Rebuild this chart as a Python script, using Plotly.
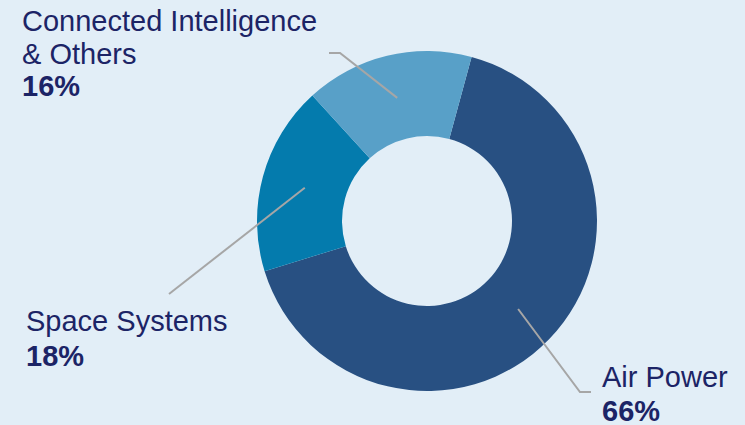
import math
import plotly.graph_objects as go

# Segment revenue mix
segments = ["Air Power", "Space Systems", "Connected Intelligence & Others"]
label_lines = [["Air Power"], ["Space Systems"], ["Connected Intelligence", "& Others"]]
shares = [66, 18, 16]
colors = ["#285082", "#047BAD", "#58A0C8"]

W, H = 745, 425
BG = "#E2EEF7"
TEXT = "#1C2466"
LEADER = "#A6A6A6"

# donut geometry (pixels)
cx, cy, R = 427, 221, 170
hole = 0.5
rotation = 15.2  # start angle of the first slice, clockwise from 12 o'clock

fig = go.Figure(go.Pie(
    labels=segments,
    values=shares,
    hole=hole,
    sort=False,
    direction="clockwise",
    rotation=rotation,
    marker=dict(colors=colors, line=dict(width=0)),
    textinfo="none",
    hoverinfo="label+percent",
    showlegend=False,
    domain=dict(x=[(cx - R) / W, (cx + R) / W],
                y=[1 - (cy + R) / H, 1 - (cy - R) / H]),
))


def px(x):
    return x / W


def py(y):
    return 1 - y / H


# leader-line elbow/end points and label placement for each segment
# (elbow, end, text left x, first-line centre y, line step)
label_layout = [
    ((580, 392), (591, 392), 602, 376.5, 34.0),
    ((169, 294), None, 26, 321.0, 34.5),
    ((340, 53), (329, 53), 22, 21.5, 32.5),
]

total = sum(shares)
start = rotation
for seg, lines, share, (elbow, end, tx, ty, step) in zip(
        segments, label_lines, shares, label_layout):
    frac = share / total
    mid = math.radians(start + frac * 360 / 2)
    start += frac * 360
    r0 = R * 0.745
    x0 = cx + r0 * math.sin(mid)
    y0 = cy - r0 * math.cos(mid)
    pts = [(x0, y0), elbow] + ([end] if end else [])
    path = "M " + " L ".join(f"{px(a):.5f},{py(b):.5f}" for a, b in pts)
    fig.add_shape(type="path", path=path, xref="paper", yref="paper",
                  line=dict(color=LEADER, width=2))
    texts = lines + [f"<b>{share}%</b>"]
    for i, t in enumerate(texts):
        fig.add_annotation(x=px(tx - 2), y=py(ty + i * step), xref="paper", yref="paper",
                           text=t, showarrow=False, xanchor="left", yanchor="middle",
                           font=dict(family="Liberation Sans, Arial, sans-serif",
                                     size=29, color=TEXT))

fig.update_layout(
    width=W, height=H,
    margin=dict(l=0, r=0, t=0, b=0),
    paper_bgcolor=BG, plot_bgcolor=BG,
)

fig.write_html("out.html")
